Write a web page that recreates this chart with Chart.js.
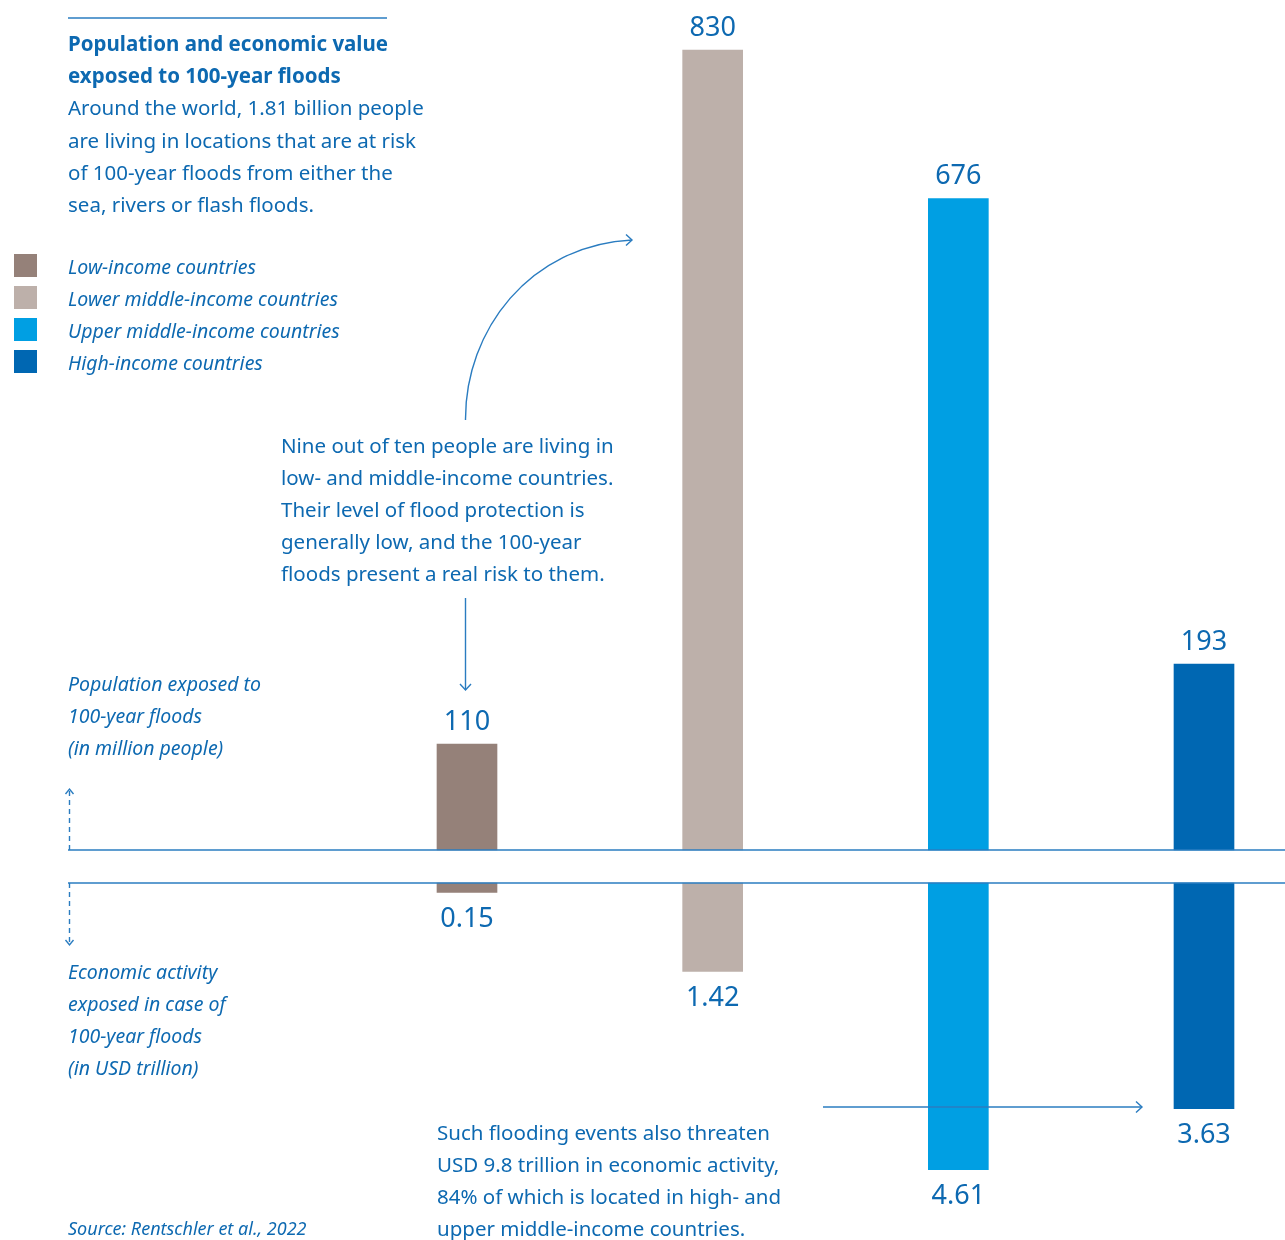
<!DOCTYPE html>
<html>
<head>
<meta charset="utf-8">
<script src="https://cdn.jsdelivr.net/npm/chart.js@4"></script>
<style>
  html, body { margin: 0; padding: 0; background: #fff; }
  body { width: 1285px; height: 1240px; position: relative; overflow: hidden;
         font-family: "Noto Sans", "Open Sans", sans-serif; color: #0d69b1; }
  canvas { position: absolute; left: 0; }
  #popChart { top: 0; }
  #ecoChart { top: 873px; }
  .txt { position: absolute; font-size: 20.5px; line-height: 32.2px; white-space: nowrap; }
  .title { font-weight: bold; }
  .it { font-style: italic; font-size: 19.5px; letter-spacing: 0; line-height: 32px; }
  .legend-row { position: relative; height: 32px; }
  .swatch { position: absolute; left: -54px; top: 3px; width: 23px; height: 23px; }
  svg { position: absolute; left: 0; top: 0; }
</style>
</head>
<body>
<canvas id="popChart" width="1285" height="860"></canvas>
<canvas id="ecoChart" width="1285" height="367"></canvas>

<div class="txt" style="left:68px; top:27px;">
  <div class="title">Population and economic value</div>
  <div class="title">exposed to 100-year floods</div>
  <div>Around the world, 1.81 billion people</div>
  <div>are living in locations that are at risk</div>
  <div>of 100-year floods from either the</div>
  <div>sea, rivers or flash floods.</div>
</div>

<div class="txt it" id="legend" style="left:68px; top:251px;"></div>

<div class="txt" style="left:281px; top:429px; line-height:32px;">
  <div>Nine out of ten people are living in</div>
  <div>low- and middle-income countries.</div>
  <div>Their level of flood protection is</div>
  <div>generally low, and the 100-year</div>
  <div>floods present a real risk to them.</div>
</div>

<div class="txt it" style="left:68px; top:668px;">
  <div>Population exposed to</div>
  <div>100-year floods</div>
  <div>(in million people)</div>
</div>

<div class="txt it" style="left:68px; top:956px;">
  <div>Economic activity</div>
  <div>exposed in case of</div>
  <div>100-year floods</div>
  <div>(in USD trillion)</div>
</div>

<div class="txt it" style="left:68px; top:1213px; font-size:18px; line-height:30px;">Source: Rentschler et al., 2022</div>

<div class="txt" style="left:437px; top:1116px; line-height:32px;">
  <div>Such flooding events also threaten</div>
  <div>USD 9.8 trillion in economic activity,</div>
  <div>84% of which is located in high- and</div>
  <div>upper middle-income countries.</div>
</div>

<svg width="1285" height="1240" fill="none" stroke="#2a7cc0" stroke-width="1.4">
  <!-- header rule -->
  <line x1="68" y1="18" x2="387" y2="18" />
  <!-- baselines -->
  <line x1="68" y1="850" x2="1285" y2="850" stroke-width="1.6" />
  <line x1="68" y1="883" x2="1285" y2="883" stroke-width="1.6" />
  <!-- dashed axis hints -->
  <line x1="69.5" y1="850" x2="69.5" y2="790" stroke-dasharray="5 4" />
  <polyline points="65.5,794 69.5,789 73.5,794" />
  <line x1="69.5" y1="883" x2="69.5" y2="944" stroke-dasharray="5 4" />
  <polyline points="65.5,940 69.5,945 73.5,940" />
  <!-- curved arrow -->
  <path d="M 465.5 420 C 465 330, 530 245, 632 240" />
  <polyline points="626,234.5 632,240 626,245.5" />
  <!-- down arrow -->
  <line x1="465.5" y1="598" x2="465.5" y2="690" />
  <polyline points="460,684 465.5,690 471,684" />
  <!-- horizontal arrow -->
  <line x1="823" y1="1107" x2="1142" y2="1107" />
  <polyline points="1136,1101.5 1142,1107 1136,1112.5" />
</svg>

<script>
// Data
const incomeGroups = ['Low-income countries', 'Lower middle-income countries', 'Upper middle-income countries', 'High-income countries'];
const populationMillions = [110, 830, 676, 193];
const economyTrillionUsd = [0.15, 1.42, 4.61, 3.63];
const groupColors = ['#958179', '#bdb0aa', '#009fe3', '#0067b2'];

const textBlue = '#0d69b1';

// ─── Legend ─────────────────────────────────────────────────────────────────

document.getElementById('legend').innerHTML = incomeGroups.map((g, i) => `
    <div class="legend-row"><span class="swatch" style="background:${groupColors[i]}"></span>${g}</div>
`).join('');

// ─── Value labels plugin ────────────────────────────────────────────────────

function valueLabels(offset, fmt) {
    return {
        id: 'valueLabels',
        afterDatasetsDraw(chart) {
            const ctx = chart.ctx;
            const meta = chart.getDatasetMeta(0);
            const values = chart.data.datasets[0].data;
            ctx.save();
            ctx.font = '27px "Noto Sans", "Open Sans", sans-serif';
            ctx.fillStyle = textBlue;
            ctx.textAlign = 'center';
            ctx.textBaseline = 'middle';
            meta.data.forEach((bar, i) => {
                ctx.fillText(fmt(values[i]), bar.x, bar.y + offset);
            });
            ctx.restore();
        }
    };
}

function makeBarChart(id, values, yOpts, padding, labelPlugin) {
    return new Chart(document.getElementById(id).getContext('2d'), {
        type: 'bar',
        data: {
            labels: incomeGroups,
            datasets: [{
                data: values,
                backgroundColor: groupColors,
                barThickness: 60,
                borderWidth: 0,
                clip: false
            }]
        },
        options: {
            responsive: false,
            animation: false,
            layout: { padding },
            scales: {
                x: { display: false, offset: false },
                y: Object.assign({ display: false, min: 0 }, yOpts)
            },
            plugins: { legend: { display: false }, tooltip: { enabled: false } }
        },
        plugins: [labelPlugin]
    });
}

// ─── Population (upwards) ───────────────────────────────────────────────────

makeBarChart('popChart', populationMillions, { max: 880 },
    { left: 467, right: 81, top: 2, bottom: 10 },
    valueLabels(-22, v => String(v)));

// ─── Economic activity (downwards) ──────────────────────────────────────────

makeBarChart('ecoChart', economyTrillionUsd, { max: 5.5, reverse: true },
    { left: 467, right: 81, top: 10, bottom: 15 },
    valueLabels(27, v => v.toFixed(2)));
</script>
</body>
</html>
